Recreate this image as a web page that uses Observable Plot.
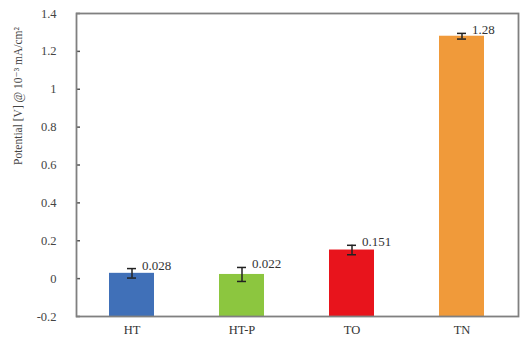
<!DOCTYPE html>
<html>
<head>
<meta charset="utf-8">
<script src="https://cdn.jsdelivr.net/npm/d3@7"></script>
<script src="https://cdn.jsdelivr.net/npm/@observablehq/plot@0.6"></script>
<style>
  html, body { margin: 0; padding: 0; background: #fff; }
</style>
</head>
<body>
<div id="chart"></div>
<script>
const categories = ["HT", "HT-P", "TO", "TN"];
const values = [0.028, 0.022, 0.151, 1.28];
const errors = [0.025, 0.037, 0.025, 0.015];
const valueLabels = ["0.028", "0.022", "0.151", "1.28"];
const colors = ["#4070b8", "#8cc63f", "#e8141c", "#f09a3a"];
const yTicks = [-0.2, 0, 0.2, 0.4, 0.6, 0.8, 1, 1.2, 1.4];
const yLabel = "Potential [V] @ 10\u207B\u00B3 mA/cm\u00B2";

const data = categories.map((c, i) => ({
  cat: c, v: values[i], e: errors[i], label: valueLabels[i], color: colors[i]
}));

const font = "'Liberation Serif', 'DejaVu Serif', serif";

const chart = Plot.plot({
  width: 523,
  height: 343,
  marginLeft: 76,
  marginRight: 5,
  marginTop: 13,
  marginBottom: 27,
  style: { fontFamily: font, fontSize: "12px", color: "#333", background: "#fff" },
  x: { domain: categories, paddingInner: 0.59, paddingOuter: 0.295, label: null },
  y: { domain: [-0.2, 1.4], label: null },
  marks: [
    Plot.barY(data, { x: "cat", y1: -0.2, y2: "v", fill: "color" }),
    Plot.ruleX(data, { x: "cat", y1: d => d.v - d.e, y2: d => d.v + d.e, stroke: "#222", strokeWidth: 1.5 }),
    Plot.tickY(data, { x: "cat", y: d => d.v - d.e, stroke: "#222", strokeWidth: 1.5, insetLeft: 18, insetRight: 18 }),
    Plot.tickY(data, { x: "cat", y: d => d.v + d.e, stroke: "#222", strokeWidth: 1.5, insetLeft: 18, insetRight: 18 }),
    Plot.text(data, { x: "cat", y: d => d.v + d.e, text: "label", dx: 10, dy: 1, textAnchor: "start", lineAnchor: "bottom", fill: "#333", fontSize: 13 }),
    Plot.axisY({ ticks: yTicks, tickFormat: d => String(Math.round(d * 10) / 10), tickSize: 0, tickPadding: 20, fontSize: 12.5, fill: "#444" }),
    Plot.axisY({ ticks: yTicks, tickFormat: () => "", tickSize: 4, dx: 4, stroke: "#555", strokeWidth: 1.5 }),
    Plot.axisX({ tickSize: 0, tickPadding: 9, fontSize: 12.5, fill: "#333" }),
    Plot.text([yLabel], { frameAnchor: "left", dx: -58, rotate: -90, fontSize: 11.5, fill: "#444" }),
    Plot.frame({ stroke: "#808080", strokeWidth: 1.8 })
  ]
});
document.getElementById("chart").appendChild(chart);
</script>
</body>
</html>
